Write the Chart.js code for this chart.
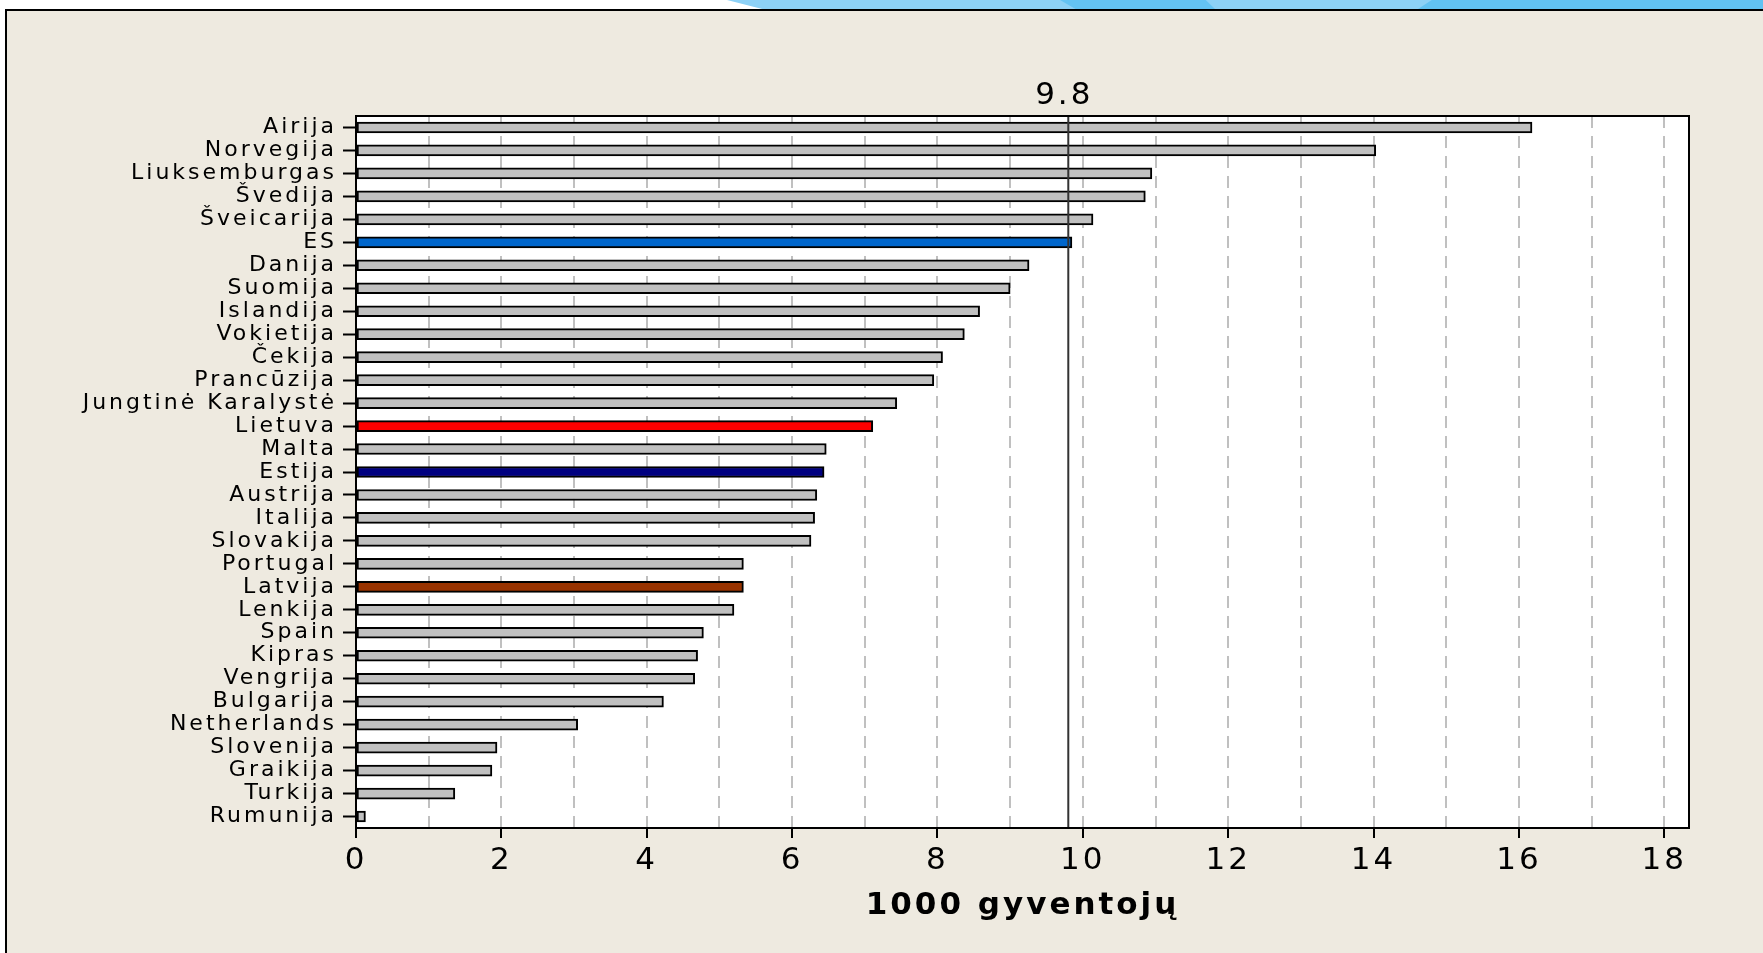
<!DOCTYPE html>
<html>
<head>
<meta charset="utf-8">
<title>1000 gyventojų</title>
<script src="https://cdn.jsdelivr.net/npm/chart.js@4.4.1/dist/chart.umd.min.js"></script>
<style>
  html, body { margin:0; padding:0; width:1763px; height:953px; overflow:hidden; background:#fff; }
  .band { position:absolute; top:0; height:9px; }
  .panel { position:absolute; left:5px; top:9px; right:0; bottom:0; background:#EEEAE0; border-left:2px solid #000; border-top:2px solid #000; }
  .wrap { position:absolute; left:0; top:0; width:1763px; height:953px; }
</style>
</head>
<body>
<div class="band" style="left:727px; width:1036px; background:#8dd1f6; clip-path:polygon(0 0,100% 0,100% 100%,3.4% 100%)"></div>
<div class="band" style="left:1060px; width:155px; background:#64c3f3; clip-path:polygon(0 0,94% 0,100% 100%,10% 100%)"></div>
<div class="band" style="left:1418px; width:345px; background:#62c2f2; clip-path:polygon(4% 0,100% 0,100% 100%,0 100%)"></div>
<div class="panel"></div>
<div class="wrap"><canvas id="rateChart"></canvas></div>
<script>
const countries = ["Airija","Norvegija","Liuksemburgas","Švedija","Šveicarija","ES","Danija","Suomija","Islandija","Vokietija","Čekija","Prancūzija","Jungtinė Karalystė","Lietuva","Malta","Estija","Austrija","Italija","Slovakija","Portugal","Latvija","Lenkija","Spain","Kipras","Vengrija","Bulgarija","Netherlands","Slovenija","Graikija","Turkija","Rumunija"];
const rates = [16.18,14.03,10.95,10.86,10.14,9.85,9.26,9.0,8.58,8.37,8.07,7.95,7.44,7.11,6.47,6.44,6.34,6.31,6.26,5.33,5.33,5.20,4.78,4.70,4.66,4.23,3.05,1.94,1.87,1.36,0.13];
const euAverage = 9.8;
const xMax = 18.34;

const highlight = { "ES": '#0066CC', "Lietuva": '#FF0000', "Estija": '#000080', "Latvija": '#993300' };
const barColors = countries.map(c => highlight[c] || '#C0C0C0');

// white plot area, 9.8 reference line and the frame around the plot
const plotFrame = {
  id: 'plotFrame',
  beforeDraw(chart) {
    const {ctx, chartArea: a} = chart;
    ctx.save();
    ctx.fillStyle = '#fff';
    ctx.fillRect(a.left, a.top, a.width, a.height);
    ctx.restore();
    ctx.letterSpacing = '3px';
  },
  afterDatasetsDraw(chart) {
    const {ctx, chartArea: a, scales: {x}} = chart;
    const px = x.getPixelForValue(euAverage);
    ctx.save();
    ctx.strokeStyle = '#333';
    ctx.lineWidth = 2;
    ctx.beginPath();
    ctx.moveTo(px, a.top);
    ctx.lineTo(px, a.bottom);
    ctx.stroke();
    ctx.fillStyle = '#000';
    ctx.font = '31px "DejaVu Sans"';
    ctx.textAlign = 'center';
    ctx.textBaseline = 'middle';
    ctx.fillText(euAverage.toFixed(1), px - 4, 96);
    ctx.restore();
  },
  afterDraw(chart) {
    const {ctx, chartArea: a} = chart;
    ctx.save();
    ctx.strokeStyle = '#000';
    ctx.lineWidth = 2;
    ctx.strokeRect(a.left, a.top, a.width, a.height);
    ctx.restore();
    ctx.letterSpacing = '0px';
  }
};

new Chart(document.getElementById('rateChart'), {
  type: 'bar',
  data: {
    labels: countries,
    datasets: [{
      data: rates,
      backgroundColor: barColors,
      borderColor: '#000',
      borderWidth: 2,
      borderSkipped: false,
      barThickness: 11
    }]
  },
  options: {
    indexAxis: 'y',
    responsive: true,
    maintainAspectRatio: false,
    animation: false,
    layout: { padding: { top: 116, right: 74, left: 0, bottom: 0 } },
    plugins: { legend: { display: false }, tooltip: { enabled: false } },
    scales: {
      x: {
        min: 0,
        max: xMax,
        ticks: {
          stepSize: 1,
          includeBounds: false,
          autoSkip: false,
          maxRotation: 0,
          color: '#000',
          font: { family: 'DejaVu Sans', size: 31 },
          padding: 4,
          callback: v => (v % 2 === 0 ? String(v) : '')
        },
        grid: {
          color: c => (c.tick && c.tick.value === 0 ? 'rgba(0,0,0,0)' : '#c0c0c0'),
          lineWidth: 2,
          tickLength: 10,
          tickWidth: 2,
          tickColor: c => (c.tick && c.tick.value % 2 === 0 ? '#000' : 'rgba(0,0,0,0)'),
          tickBorderDash: []
        },
        border: { color: '#000', width: 2, dash: [12, 8] },
        title: {
          display: true,
          text: '1000 gyventojų',
          color: '#000',
          font: { family: 'DejaVu Sans', size: 31, weight: 'bold' },
          padding: { top: 0, bottom: 28 }
        },
        afterFit(scale) { scale.height = 125; }
      },
      y: {
        offset: true,
        grid: { drawOnChartArea: false, offset: false, tickLength: 13, tickWidth: 2, tickColor: '#000' },
        border: { color: '#000', width: 2 },
        ticks: { color: '#000', font: { family: 'DejaVu Sans', size: 22 }, padding: 6, autoSkip: false },
        afterFit(scale) { scale.width = 356; }
      }
    }
  },
  plugins: [plotFrame]
});
</script>
</body>
</html>
